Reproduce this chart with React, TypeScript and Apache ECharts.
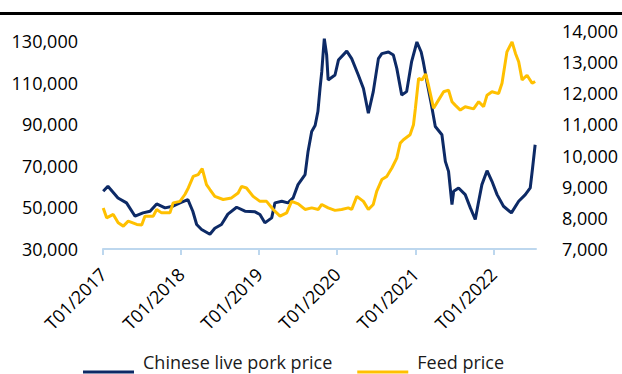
import React, { useEffect, useRef } from "react";
import * as echarts from "echarts";

const porkDates = [
  "2017-01-02","2017-01-24","2017-03-12","2017-04-21","2017-05-31","2017-07-07","2017-08-09","2017-09-09","2017-10-18","2017-11-24","2017-12-27",
  "2018-02-02","2018-02-25","2018-03-15","2018-04-07","2018-05-16","2018-06-08","2018-07-09","2018-08-08","2018-09-18","2018-10-27","2018-12-13",
  "2019-01-05","2019-01-28","2019-03-01","2019-03-16","2019-04-17","2019-05-16","2019-06-09","2019-07-02","2019-08-04","2019-08-18","2019-09-04","2019-09-20","2019-10-03","2019-10-13","2019-10-21","2019-10-28","2019-11-02","2019-11-13","2019-11-20","2019-12-22",
  "2020-01-07","2020-02-15","2020-03-09","2020-04-09","2020-05-03","2020-05-26","2020-06-18","2020-07-12","2020-07-28","2020-08-28","2020-09-20","2020-10-06","2020-10-29","2020-11-21","2020-12-14",
  "2021-01-08","2021-01-28","2021-02-07","2021-02-25","2021-03-16","2021-04-04","2021-05-05","2021-05-21","2021-06-05","2021-06-21","2021-06-29","2021-07-22","2021-08-22","2021-09-15","2021-10-08","2021-10-21","2021-11-08","2021-12-02","2021-12-25",
  "2022-01-18","2022-02-17","2022-03-26","2022-04-29","2022-05-30","2022-06-22","2022-07-03","2022-07-15",
];
const porkValues = [
  57800,60200,54600,52200,45800,47400,48200,51700,49800,50600,52200,
  53800,48200,41800,39400,37100,40000,41800,46800,50100,48200,47900,
  46600,42600,45000,52200,53000,52200,54600,61000,65800,77000,86600,89500,96200,107400,115300,125000,131300,123400,111400,113800,
  121000,125300,121700,113800,107300,95400,105800,121700,124100,124900,123400,117000,104200,105800,120100,
  129700,124900,120100,110000,100000,89000,85000,72200,67400,51400,57800,59400,56200,49800,44200,51400,61000,67700,62600,
  56200,50600,47400,53000,56200,59400,69000,80200,
];

const feedDates = [
  "2017-01-02","2017-01-18","2017-02-18","2017-03-13","2017-04-06","2017-04-29","2017-06-08","2017-07-01","2017-07-16","2017-08-24","2017-09-09","2017-10-02","2017-11-10","2017-11-25","2017-12-27",
  "2018-01-19","2018-02-04","2018-02-27","2018-03-22","2018-04-10","2018-04-30","2018-05-16","2018-06-08","2018-07-17","2018-08-25","2018-09-25","2018-10-11","2018-11-03","2018-12-04",
  "2019-01-05","2019-02-05","2019-03-08","2019-04-09","2019-05-10","2019-06-02","2019-07-03","2019-08-04","2019-09-04","2019-10-05","2019-10-21","2019-11-20","2019-12-22",
  "2020-01-22","2020-02-22","2020-03-09","2020-04-02","2020-05-03","2020-05-26","2020-06-18","2020-07-04","2020-07-28","2020-08-20","2020-09-13","2020-10-06","2020-10-22","2020-11-06","2020-12-07","2020-12-23",
  "2021-01-01","2021-01-16","2021-02-01","2021-02-18","2021-03-03","2021-03-27","2021-04-19","2021-05-13","2021-06-05","2021-06-21","2021-07-06","2021-07-30","2021-08-22","2021-09-30","2021-10-24","2021-11-16","2021-12-02","2021-12-25",
  "2022-01-25","2022-02-10","2022-03-05","2022-03-29","2022-04-14","2022-04-29","2022-05-15","2022-06-07","2022-07-01","2022-07-15",
];
const feedValues = [
  8320,8000,8110,7840,7735,7895,7790,7770,8055,8055,8270,8160,8160,8480,8530,
  8750,8960,9330,9390,9580,9070,8910,8690,8590,8640,8800,9010,8960,8690,
  8530,8530,8270,8055,8160,8530,8450,8270,8320,8270,8430,8320,8240,
  8270,8320,8270,8690,8530,8270,8430,8850,9230,9330,9600,9920,10400,10510,10670,10990,
  11520,12480,12430,12620,12260,11520,11780,12050,12100,11730,11620,11460,11570,11500,11730,11570,11940,12050,
  11990,12320,13330,13650,13280,13010,12430,12580,12320,12380,
];

const xStart = "2017-01-01";
const xEnd = "2022-07-19";
const yearTicks = ["2017-01-01", "2018-01-01", "2019-01-01", "2020-01-01", "2021-01-01", "2022-01-01"];
const leftTicks = [30000, 50000, 70000, 90000, 110000, 130000];
const rightTicks = [7000, 8000, 9000, 10000, 11000, 12000, 13000, 14000];
const seriesNames = ["Chinese live pork price", "Feed price"];

function ts(s: string): number {
  const [y, m, d] = s.split("-").map(Number);
  return Date.UTC(y, m - 1, d);
}
function fmt(v: number): string {
  return String(Math.round(v)).replace(/\B(?=(\d{3})+(?!\d))/g, ",");
}

const FONT = "Open Sans";
const LEGEND_ICON = "path://M0,0L51,0L51,0.05L0,0.05ZM0,20L51,20L51,23L0,23Z";

export default function App() {
  const ref = useRef<HTMLDivElement>(null);
  useEffect(() => {
    if (!ref.current) return;
    const chart = echarts.init(ref.current, undefined, { renderer: "svg" });
    const yearTs = yearTicks.map(ts);
    const option: any = {
      animation: false,
      backgroundColor: "#ffffff",
      textStyle: { fontFamily: FONT },
      grid: { left: 103, right: 86, top: 31, bottom: 125 },
      graphic: [
        {
          type: "line",
          shape: { x1: 0, y1: 13.5, x2: 622, y2: 13.5 },
          style: { stroke: "#000000", lineWidth: 3 },
        },
      ],
      legend: {
        left: 83,
        top: 350.5,
        padding: 0,
        icon: LEGEND_ICON,
        itemWidth: 51,
        itemHeight: 23,
        itemGap: 25,
        textStyle: { fontFamily: FONT, fontSize: 18, lineHeight: 18, color: "#1a1a1a", padding: [0, 0, 0, 4] },
        data: seriesNames,
      },
      xAxis: {
        type: "value",
        min: ts(xStart),
        max: ts(xEnd),
        scale: true,
        axisLine: { show: true, lineStyle: { color: "#bdd7ee", width: 2 } },
        axisTick: { show: true, length: 6, customValues: yearTs, lineStyle: { color: "#bdd7ee", width: 2 } },
        axisLabel: {
          customValues: yearTs,
          rotate: 45,
          margin: 22,
          fontFamily: FONT,
          fontSize: 18,
          color: "#000000",
          hideOverlap: false,
          formatter: (v: number) => "T01/" + new Date(v).getUTCFullYear(),
        },
        splitLine: { show: false },
      },
      yAxis: [
        {
          type: "value",
          position: "left",
          min: 30000,
          max: 135000,
          axisLine: { show: false },
          axisTick: { show: false },
          splitLine: { show: false },
          axisLabel: {
            customValues: leftTicks,
            margin: 25,
            fontFamily: FONT,
            fontSize: 18,
            color: "#000000",
            padding: [0, 0, 7, 0],
            formatter: (v: number) => fmt(v),
          },
        },
        {
          type: "value",
          position: "right",
          min: 7000,
          max: 14000,
          axisLine: { show: false },
          axisTick: { show: false },
          splitLine: { show: false },
          axisLabel: {
            customValues: rightTicks,
            margin: 26,
            fontFamily: FONT,
            fontSize: 18,
            color: "#000000",
            padding: [0, 0, 4, 0],
            formatter: (v: number) => fmt(v),
          },
        },
      ],
      series: [
        {
          name: seriesNames[0],
          type: "line",
          yAxisIndex: 0,
          showSymbol: false,
          symbol: "none",
          lineStyle: { color: "#0d2a66", width: 3 },
          itemStyle: { color: "#0d2a66" },
          data: porkDates.map((d, i) => [ts(d), porkValues[i]]),
        },
        {
          name: seriesNames[1],
          type: "line",
          yAxisIndex: 1,
          showSymbol: false,
          symbol: "none",
          lineStyle: { color: "#ffc000", width: 3 },
          itemStyle: { color: "#ffc000" },
          data: feedDates.map((d, i) => [ts(d), feedValues[i]]),
        },
      ],
    };
    chart.setOption(option);
    return () => chart.dispose();
  }, []);
  return (
    <div
      ref={ref}
      style={{ position: "fixed", left: 0, top: 0, width: 622, height: 374, background: "#fff" }}
    />
  );
}
